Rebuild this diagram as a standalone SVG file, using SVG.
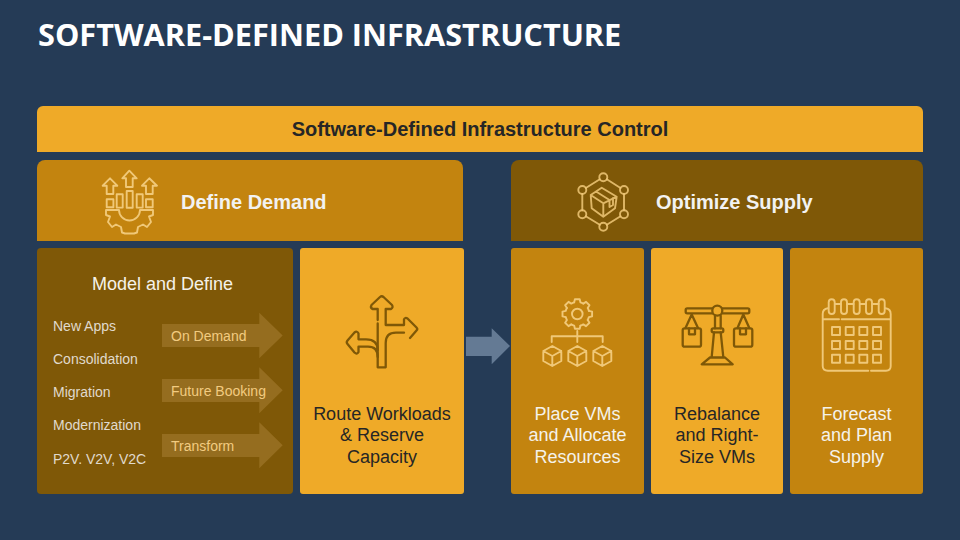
<svg xmlns="http://www.w3.org/2000/svg" width="960" height="540" viewBox="0 0 960 540">
<style>
text{font-family:"Liberation Sans",Arial,sans-serif}
.title{font-family:"Open Sans","Liberation Sans",sans-serif;font-weight:700;font-size:30.7px;fill:#fff}
.yel{fill:#EFAA28}.gold{fill:#C3840F}.brown{fill:#7F5807}
.head{font-weight:700;font-size:20px;fill:#F2F2F2}
.body{font-size:18px;text-anchor:middle}
.dk{fill:#262626}.lt{fill:#F5F2EA}
.item{font-size:14px;fill:#E0DACD}
.tag{font-size:14px;fill:#F2CB80}
.flow{fill:#956D1F}
.il,.id{fill:none;stroke-linecap:round;stroke-linejoin:round;stroke-width:1.9}
.il{stroke:#F0C878}.id{stroke:#7F5807;stroke-width:2.3}
</style>
<defs>
<g id="tooth"><path d="M11.600-3.100L14.800-2.400L14.800 2.400L11.600 3.100A12 12 0 0 1 10.400 6"/></g>
<g id="cube"><path d="M0-10L9-5V5L0 10L-9 5V-5ZM-9-5L0 0L9-5M0 0V10"/></g>
</defs>
<rect width="960" height="540" fill="#253B56"/>
<text class="title" x="38" y="46">SOFTWARE-DEFINED INFRASTRUCTURE</text>
<g id="control"><path class="yel" d="M37 152V112a6 6 0 0 1 6-6H917a6 6 0 0 1 6 6V152Z"/><text x="480" y="135.500" font-weight="700" font-size="20" fill="#262626" text-anchor="middle">Software-Defined Infrastructure Control</text></g>
<g id="define-demand"><path class="gold" d="M37 241V168a8 8 0 0 1 8-8H455a8 8 0 0 1 8 8V241Z"/>
<g class="il"><path d="M129.300 170.700L136.700 178.300H132.700V187H126V178.300H122.300ZM110 178.300L117.300 185.700H113.300V194H106.700V185.700H102.700ZM149.300 178.300L157 185.700H152.700V194H146V185.700H142Z"/>
<rect x="106.700" y="199.300" width="6.700" height="8"/><rect x="116.700" y="194.300" width="6" height="13.300"/><rect x="126.700" y="191" width="6" height="16.700"/><rect x="136.700" y="194.300" width="6" height="13.300"/><rect x="146" y="199.300" width="6.700" height="8"/>
<path d="M106 210H119A10.500 10.500 0 0 0 140 210H153V215L149 216.500L151 222L147 227L143 224.500L138 227L137 232.500L134 233.500H125L122 232.500L121 227L116 224.500L112 227L108 222L110 216.500L106 215Z"/></g>
<text class="head" x="181" y="209">Define Demand</text></g>
<g id="optimize-supply"><path class="brown" d="M511 241V168a8 8 0 0 1 8-8H915a8 8 0 0 1 8 8V241Z"/>
<g class="il" stroke-opacity=".85"><circle cx="603.300" cy="177.300" r="4"/><circle cx="624" cy="190" r="4"/><circle cx="624" cy="214.300" r="4"/><circle cx="603.300" cy="226.700" r="4"/><circle cx="582.300" cy="214.300" r="4"/><circle cx="582.300" cy="190" r="4"/>
<path d="M606.800 179.300L620.500 188M624 194V210.300M620.500 216.300L606.800 224.700M599.800 224.700L585.800 216.300M582.300 210.300V194M585.800 188L599.800 179.300"/>
<path d="M601.700 187.700L616.700 196.700L615 208.300L603.300 216.700L591.700 208.300L590.700 195ZM590.700 195L603.300 203.300L616.700 196.700M603.300 203.300V216.700M596 191.500L609.500 200V207L613 205V198"/></g>
<text class="head" x="656" y="209">Optimize Supply</text></g>
<g id="model-define"><rect class="brown" x="37" y="248" width="256" height="246" rx="4"/>
<text x="92" y="290" font-size="18" fill="#F5F2EA">Model and Define</text>
<text class="item" x="53" y="331">New Apps</text><text class="item" x="53" y="364">Consolidation</text><text class="item" x="53" y="397">Migration</text><text class="item" x="53" y="430">Modernization</text><text class="item" x="53" y="464">P2V. V2V, V2C</text></g>
<g id="connectors">
<path class="flow" d="M162 324H259.300V312.700L282.700 335.500L259.300 358.300V347H162Z"/>
<path class="flow" d="M162 379H259.300V367.300L282.700 390.300L259.300 413.300V402H162Z"/>
<path class="flow" d="M162 434H259.300V422.300L282.700 445.300L259.300 468.300V457H162Z"/>
<path fill="#647A94" d="M466 336.700H491.700V328.300L510 346L491.700 364.300V356H466Z"/>
</g>
<g id="flow-labels"><text class="tag" x="171" y="341">On Demand</text><text class="tag" x="171" y="396">Future Booking</text><text class="tag" x="171" y="451">Transform</text></g>
<g id="route"><rect class="yel" x="300" y="248" width="164" height="246" rx="3"/>
<g class="id"><path d="M377.700 320V309H372.500Q370 307.500 371.500 305L380 297Q381.700 295.500 383.500 297L392 305Q393.500 307.500 391 309H385.700V325H404V319.500Q405 317 407.500 318.500L416.500 327.500Q418 329 416.500 330.500L410 338M377.700 323.500V367.300H385.700V343Q385.700 332.700 396 332.700H404"/>
<path d="M377.700 350Q377.700 339.300 366 339.300H358.500V333.500Q357 330.500 354.500 332.500L347.500 340.500Q346 342.300 347.500 344L354.500 352.500Q357 355 358.500 352V346.700H368Q377.700 346.700 377.700 357"/></g>
<text class="body dk"><tspan x="382" y="420">Route Workloads</tspan><tspan x="382" y="441">&amp; Reserve</tspan><tspan x="382" y="463">Capacity</tspan></text></g>
<g id="place"><rect class="gold" x="511" y="248" width="133" height="246" rx="3"/>
<g class="il"><g transform="translate(577.300 314)"><use href="#tooth"/><use href="#tooth" transform="rotate(45)"/><use href="#tooth" transform="rotate(90)"/><use href="#tooth" transform="rotate(135)"/><use href="#tooth" transform="rotate(180)"/><use href="#tooth" transform="rotate(225)"/><use href="#tooth" transform="rotate(270)"/><use href="#tooth" transform="rotate(315)"/><circle r="5.300"/></g>
<path d="M577.300 331V342M551.700 342V336.300H602.700V342"/>
<use href="#cube" x="552.300" y="356"/><use href="#cube" x="577.300" y="356"/><use href="#cube" x="602.300" y="356"/></g>
<text class="body lt"><tspan x="577.500" y="420">Place VMs</tspan><tspan x="577.500" y="441">and Allocate</tspan><tspan x="577.500" y="463">Resources</tspan></text></g>
<g id="rebalance"><rect class="yel" x="651" y="248" width="132" height="246" rx="3"/>
<g class="id"><rect x="685.700" y="308.300" width="63.600" height="5" rx="1.500"/><circle cx="717.300" cy="310.700" r="5" fill="#EFAA28"/>
<path d="M715 315.700V328.300M720.700 315.700V328.300M714 332.300L711.700 357M720.700 332.300L723.300 357M710 357.500H725L732.700 364.300H701.700Z"/><rect x="711.700" y="328.300" width="11.600" height="4" rx="1.500"/>
<path d="M685.500 328L691.700 314.500L698 328M737.500 328L743.300 314.500L749.300 328"/>
<rect x="682.700" y="328.300" width="18.300" height="18.400" rx="2"/><rect x="734" y="328.300" width="18.300" height="18.400" rx="2"/>
<path d="M689 328.300V334.300H695V328.300M740 328.300V334.300H746V328.300"/></g>
<text class="body dk"><tspan x="717" y="420">Rebalance</tspan><tspan x="717" y="441">and Right-</tspan><tspan x="717" y="463">Size VMs</tspan></text></g>
<g id="forecast"><rect class="gold" x="790" y="248" width="133" height="246" rx="3"/>
<g class="il"><path d="M828 308.300Q822.700 309 822.700 314V366Q822.700 370.700 828 370.700H868.300M871 370.700H886Q890.700 370.700 890.700 366V314Q890.700 309 885.500 308.300M822.700 319.300H839M841.700 319.300H890.700"/>
<rect x="828.700" y="299.300" width="6" height="14.700" rx="3"/><rect x="841" y="299.300" width="6" height="14.700" rx="3"/><rect x="853.700" y="299.300" width="6" height="14.700" rx="3"/><rect x="866" y="299.300" width="6" height="14.700" rx="3"/><rect x="878.700" y="299.300" width="6" height="14.700" rx="3"/>
<path d="M835 304H841M847 304H853.500M860 304H866M872 304H878.500"/>
<path d="M832 327h8v8h-8zM845.700 327h8v8h-8zM859.300 327h8v8h-8zM873 327h8v8h-8zM832 341h8v8h-8zM845.700 341h8v8h-8zM859.300 341h8v8h-8zM873 341h8v8h-8zM832 354.700h8v8h-8zM845.700 354.700h8v8h-8zM859.300 354.700h8v8h-8zM873 354.700h8v8h-8z"/></g>
<text class="body lt"><tspan x="856.500" y="420">Forecast</tspan><tspan x="856.500" y="441">and Plan</tspan><tspan x="856.500" y="463">Supply</tspan></text></g>
</svg>
